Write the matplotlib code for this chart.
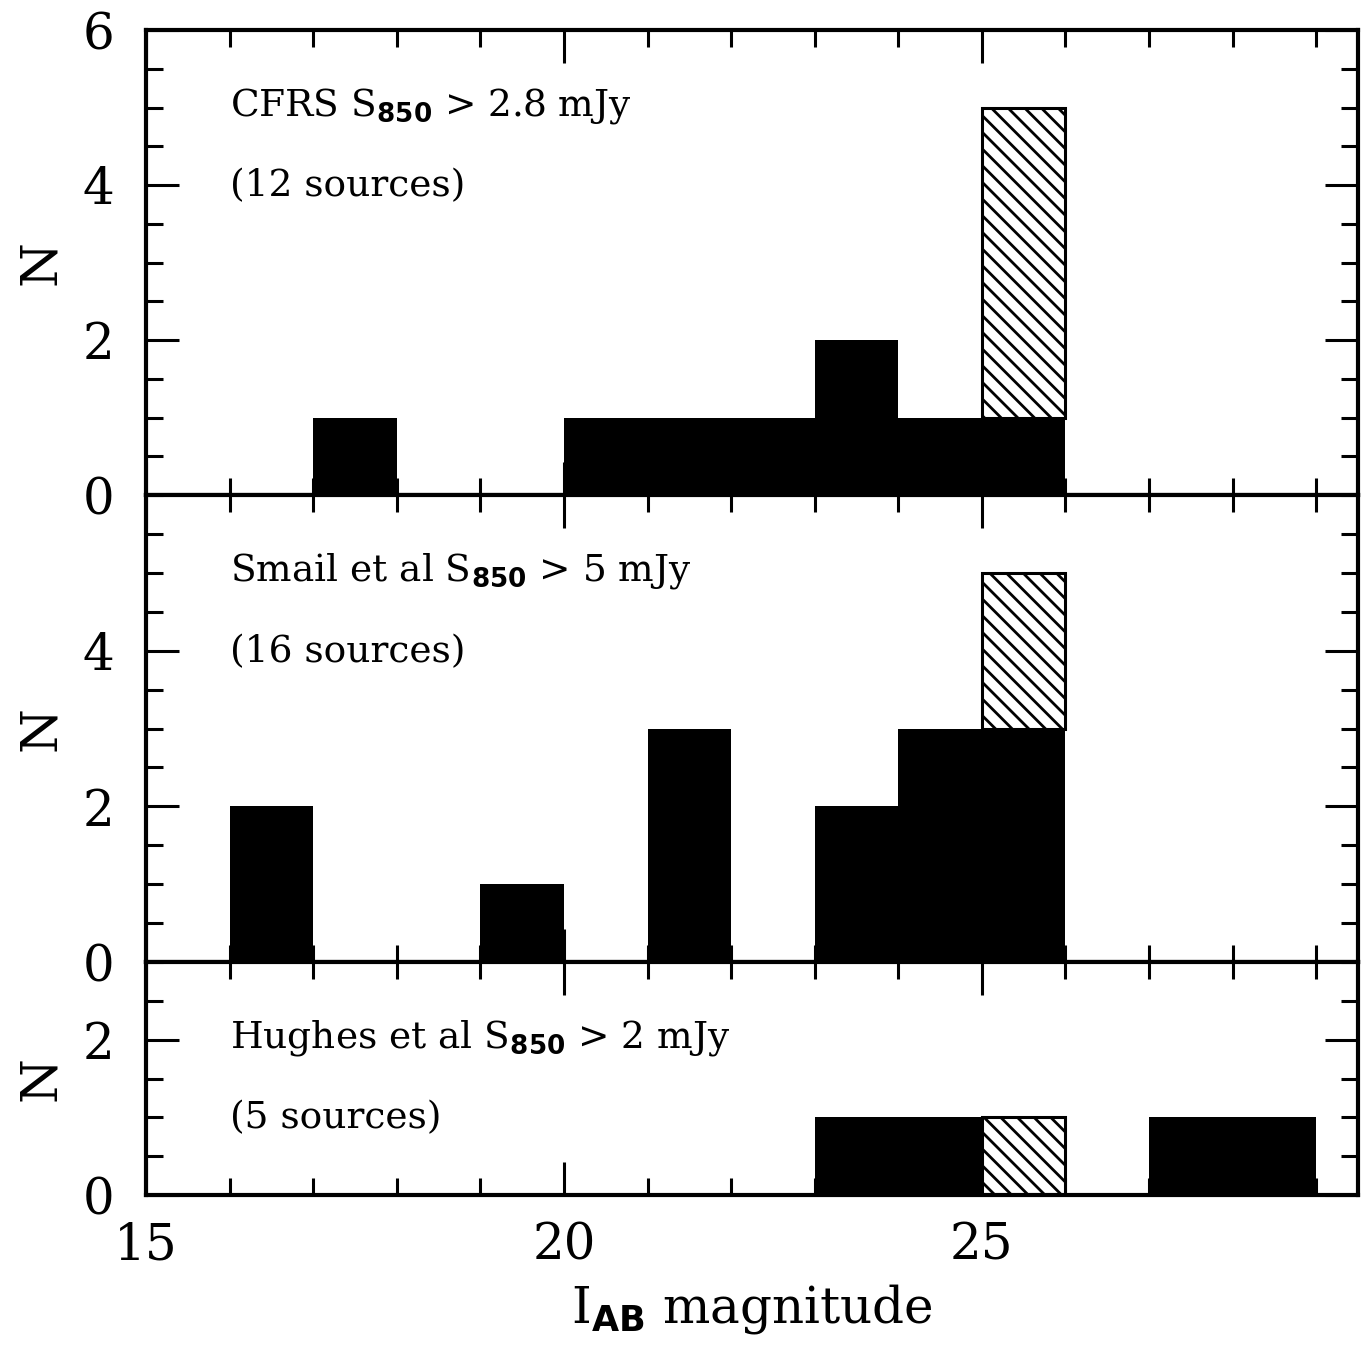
import numpy as np
import matplotlib
matplotlib.use("Agg")
import matplotlib.pyplot as plt
from matplotlib.ticker import MultipleLocator

plt.rcParams['font.family'] = 'DejaVu Serif'
plt.rcParams['mathtext.fontset'] = 'custom'
plt.rcParams['mathtext.sf'] = 'DejaVu Sans:bold'
plt.rcParams['mathtext.rm'] = 'DejaVu Serif'
plt.rcParams['hatch.linewidth'] = 2.0

# left bin edges (I_AB magnitude), width 1
cfrs_left = [17, 20, 21, 22, 23, 24, 25]
cfrs_solid = [1, 1, 1, 1, 2, 1, 1]
cfrs_hatch = [0, 0, 0, 0, 0, 0, 4]

smail_left = [16, 19, 21, 23, 24, 25]
smail_solid = [2, 1, 3, 2, 3, 3]
smail_hatch = [0, 0, 0, 0, 0, 2]

hughes_left = [23, 24, 25, 27, 28]
hughes_solid = [1, 1, 0, 1, 1]
hughes_hatch = [0, 0, 1, 0, 0]

titles = [r"CFRS S$_{\mathsf{850}}$ > 2.8 mJy",
          r"Smail et al S$_{\mathsf{850}}$ > 5 mJy",
          r"Hughes et al S$_{\mathsf{850}}$ > 2 mJy"]
counts = ["(12 sources)", "(16 sources)", "(5 sources)"]

fig = plt.figure(figsize=(13.71, 13.46), dpi=100)
L, R = 146 / 1371, 1358 / 1371
H = 1346
rows = [(30, 495), (495, 962), (962, 1195)]
ymax = [6, 6, 3]
ylabels = [[0, 2, 4, 6], [0, 2, 4], [0, 2]]
text_y = [(4.9, 3.85), (4.9, 3.85), (1.9, 0.86)]
data = [(cfrs_left, cfrs_solid, cfrs_hatch),
        (smail_left, smail_solid, smail_hatch),
        (hughes_left, hughes_solid, hughes_hatch)]

axes = []
for i, (top, bot) in enumerate(rows):
    ax = fig.add_axes([L, 1 - bot / H, R - L, (bot - top) / H])
    left, solid, hatch = data[i]
    left = np.array(left)
    solid = np.array(solid)
    hatch = np.array(hatch)
    ax.bar(left, solid, width=1, align='edge', color='black',
           edgecolor='black', linewidth=0, zorder=2)
    m = hatch > 0
    ax.bar(left[m], hatch[m], bottom=solid[m], width=1, align='edge',
           facecolor='white', edgecolor='black', linewidth=2.2,
           hatch='\\\\', zorder=2)
    ax.set_xlim(15, 29.5)
    ax.set_ylim(0, ymax[i])
    ax.xaxis.set_major_locator(MultipleLocator(5))
    ax.xaxis.set_minor_locator(MultipleLocator(1))
    ax.yaxis.set_major_locator(MultipleLocator(2))
    ax.yaxis.set_minor_locator(MultipleLocator(0.5))
    ax.set_yticks(ylabels[i])
    ax.tick_params(which='both', direction='in', top=True, right=True,
                   width=2.2)
    ax.tick_params(which='major', length=24)
    ax.tick_params(which='minor', length=12)
    ax.tick_params(axis='y', labelsize=36, pad=23)
    ax.tick_params(axis='x', labelsize=36, pad=19)
    for s in ax.spines.values():
        s.set_linewidth(3)
        s.set_zorder(3)
    if i < 2:
        ax.tick_params(axis='x', labelbottom=False)
    ax.set_ylabel("N", fontsize=37)
    ax.yaxis.set_label_coords(-0.066, 0.5)
    ax.text(16.0, text_y[i][0], titles[i], fontsize=27, va='baseline')
    ax.text(16.0, text_y[i][1], counts[i], fontsize=27, va='baseline')
    axes.append(ax)

axes[-1].set_xlabel(r"I$_{\mathsf{AB}}$ magnitude", fontsize=36, labelpad=8)

fig.savefig("out.png", dpi=100)
